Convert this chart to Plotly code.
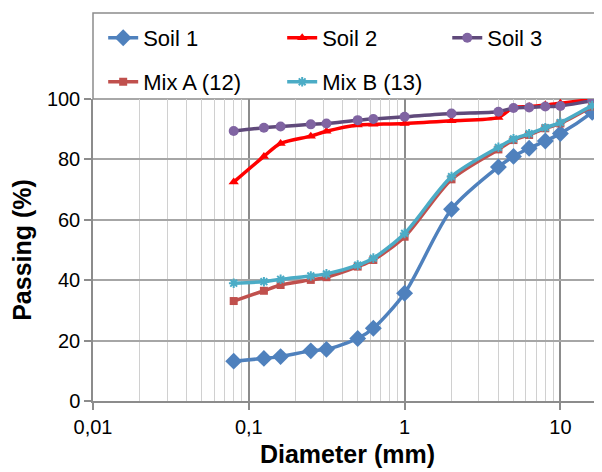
import plotly.graph_objects as go

sizes = [0.08, 0.125, 0.16, 0.25, 0.315, 0.5, 0.63, 1, 2, 4, 5, 6.3, 8, 10, 16, 20]
soil1 = [13.2, 14.1, 14.7, 16.6, 17.1, 20.7, 24.1, 35.7, 63.5, 77.5, 81.0, 83.7, 86.1, 88.6, 95.6, 100]
soil2 = [72.5, 81.0, 85.3, 87.7, 89.3, 91.4, 91.6, 91.9, 92.8, 93.9, 97.2, 97.5, 98.0, 98.6, 99.8, 100]
soil3 = [89.4, 90.5, 90.9, 91.6, 91.9, 93.0, 93.4, 94.1, 95.2, 95.8, 97.0, 97.2, 97.5, 97.7, 99.4, 100]
mixA = [33.1, 36.5, 38.4, 40.1, 41.0, 44.5, 46.7, 54.4, 73.4, 83.3, 86.4, 88.1, 90.3, 91.9, 97.5, 100]
mixB = [39.0, 39.5, 40.3, 41.4, 42.1, 45.0, 47.3, 55.5, 74.3, 84.0, 86.8, 88.5, 90.5, 92.2, 97.8, 100]

x_ticks = [0.01, 0.1, 1, 10]
x_ticktext = ["0,01", "0,1", "1", "10"]
minor_vals = [m * d for d in (0.01, 0.1, 1, 10) for m in range(2, 10)]

FONT = "Liberation Sans"

series = [
    ("Soil 1", soil1, "#4F81BD", "#4F81BD", "diamond", 13, "legend"),
    ("Soil 2", soil2, "#FF0000", "#FF0000", "triangle-up", 9, "legend"),
    ("Soil 3", soil3, "#604A7B", "#8064A2", "circle", 10, "legend3"),
    ("Mix A (12)", mixA, "#C0504D", "#C0504D", "square", 8, "legend2"),
    ("Mix B (13)", mixB, "#4BACC6", "#4BACC6", "asterisk-open", 8, "legend2"),
]

fig = go.Figure()
for name, vals, lc, mc, sym, ms, lg in series:
    marker = dict(symbol=sym, size=ms, color=mc)
    if sym == "asterisk-open":
        marker["line"] = dict(color=mc, width=2)
    fig.add_trace(go.Scatter(
        x=sizes, y=vals, name=name, mode="lines+markers",
        line=dict(color=lc, width=3.5, shape="spline", smoothing=0.8),
        marker=marker, legend=lg,
    ))

# page body adds an 8px offset; figure is sized so the plot lands where the reference has it
PLOT_H = 302
top_box = 1 + 86 / PLOT_H

leg_common = dict(orientation="h", xanchor="left", yanchor="middle",
                  entrywidth=134, entrywidthmode="pixels", bgcolor="rgba(0,0,0,0)",
                  font=dict(family=FONT, size=22, color="#000000"), itemwidth=30,
                  tracegroupgap=0)

fig.update_layout(
    width=594, height=464,
    margin=dict(l=85, r=0, t=91, b=71, autoexpand=False),
    paper_bgcolor="white", plot_bgcolor="white",
    font=dict(family=FONT, size=20, color="#000000"),
    showlegend=True,
    legend=dict(x=0.020, y=(393 - 30) / PLOT_H, **leg_common),
    legend3=dict(x=0.696, y=(393 - 30) / PLOT_H, **leg_common),
    legend2=dict(x=0.020, y=(393 - 74) / PLOT_H, **leg_common),
    xaxis=dict(
        type="log", range=[-2, 1.267], automargin=False,
        tickmode="array", tickvals=x_ticks, ticktext=x_ticktext,
        showgrid=True, gridcolor="#8C8C8C", gridwidth=1.5,
        ticks="outside", ticklen=7, tickcolor="#8C8C8C", tickwidth=1.5,
        showline=True, linecolor="#8C8C8C", linewidth=1.5,
        minor=dict(tickmode="array", tickvals=minor_vals, showgrid=True,
                   gridcolor="#D0D0D0", gridwidth=1.2, ticks=""),
        tickfont=dict(size=20),
        title=dict(text="<b>Diameter (mm)</b>", font=dict(size=25), standoff=9),
        zeroline=False,
    ),
    yaxis=dict(
        range=[0, 100], tickmode="linear", tick0=0, dtick=20, automargin=False,
        showgrid=True, gridcolor="#A6A6A6", gridwidth=1.5,
        ticks="outside", ticklen=7, tickcolor="#8C8C8C", tickwidth=1.5,
        showline=True, linecolor="#8C8C8C", linewidth=1.5,
        tickfont=dict(size=20),
        title=dict(text="<b>Passing (%)</b>", font=dict(size=25), standoff=10),
        zeroline=False,
    ),
    shapes=[dict(type="rect", xref="paper", yref="paper", x0=0, x1=1.01, y0=1, y1=top_box,
                 line=dict(color="#8C8C8C", width=1.5), fillcolor="rgba(0,0,0,0)", layer="below")],
)

fig.write_html("out.html")
